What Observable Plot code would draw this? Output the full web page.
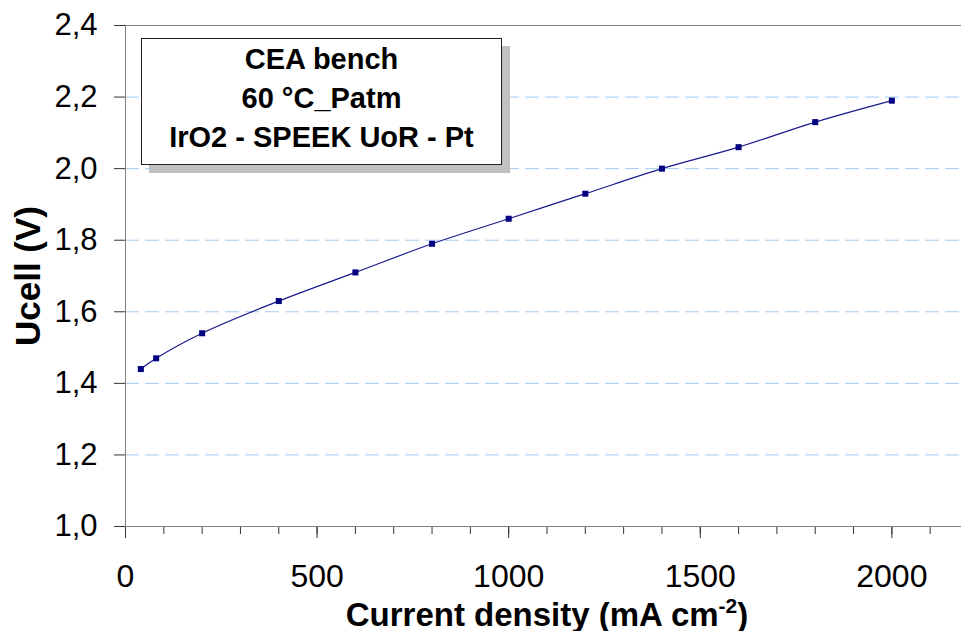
<!DOCTYPE html>
<html>
<head>
<meta charset="utf-8">
<script src="https://cdn.jsdelivr.net/npm/d3@7"></script>
<script src="https://cdn.jsdelivr.net/npm/@observablehq/plot@0.6"></script>
<style>
  html, body { margin: 0; padding: 0; background: #fff; overflow: hidden; }
  #wrap { position: relative; width: 961px; height: 631px; overflow: hidden; }
  #box {
    position: absolute; left: 141px; top: 38px; width: 359px; height: 124px;
    border: 1px solid #222; background: #fff; box-shadow: 8px 8px 0 #c0c0c0;
    font-family: "Liberation Sans", Arial, sans-serif; font-weight: bold; font-size: 29px;
    text-align: center; line-height: 39px; padding-top: 1px; box-sizing: content-box;
  }
</style>
</head>
<body>
<div id="wrap"><div id="box"><div>CEA bench</div><div>60 °C_Patm</div><div>IrO2 - SPEEK UoR - Pt</div></div></div>
<script>
const currentDensity = [40, 80, 200, 400, 600, 800, 1000, 1200, 1400, 1600, 1800, 2000];
const ucell = [1.44, 1.47, 1.54, 1.63, 1.71, 1.79, 1.86, 1.93, 2.00, 2.06, 2.13, 2.19];
const xMajorTicks = [0, 500, 1000, 1500, 2000];
const xMinorTicks = d3.range(0, 2200, 100);
const yTicks = [1.0, 1.2, 1.4, 1.6, 1.8, 2.0, 2.2, 2.4];
const yGrid = [1.2, 1.4, 1.6, 1.8, 2.0, 2.2];

const data = currentDensity.map((x, i) => ({x, y: ucell[i]}));
const fmt = d => d.toFixed(1).replace(".", ",");

const chart = Plot.plot({
  width: 975,
  height: 631,
  marginLeft: 125,
  marginRight: 7,
  marginTop: 25,
  marginBottom: 105,
  x: {domain: [0, 2200]},
  y: {domain: [1.0, 2.4]},
  style: {fontFamily: "'Liberation Sans', Arial, sans-serif", background: "transparent", color: "#000", maxWidth: "none"},
  marks: [
    Plot.ruleY(yGrid, {stroke: "#a0cbf5", strokeWidth: 1, strokeDasharray: "14,6"}),
    Plot.ruleY([2.4], {stroke: "#808080", strokeWidth: 1}),
    Plot.axisX(xMinorTicks, {tickSize: 8, tickFormat: () => "", stroke: "#333", label: null}),
    Plot.axisX(xMajorTicks, {
      tickSize: 12, tickPadding: 26, fontSize: 32, stroke: "#333", tickFormat: d => String(d),
      label: "Current density (mA cm-2)", labelAnchor: "center", labelArrow: "none", labelOffset: 99
    }),
    Plot.axisY(yTicks, {
      tickSize: 11, tickPadding: 17, fontSize: 31, stroke: "#333", tickFormat: fmt,
      label: "Ucell (V)", labelAnchor: "center", labelArrow: "none", labelOffset: 110
    }),
    Plot.ruleX([0], {stroke: "#808080"}),
    Plot.ruleY([1.0], {stroke: "#808080"}),
    Plot.line(data, {x: "x", y: "y", curve: "catmull-rom", stroke: "#1a1a8c", strokeWidth: 1.2}),
    Plot.dot(data, {x: "x", y: "y", symbol: "square", r: 3.4, fill: "#000080", stroke: "none"})
  ]
});
chart.style.maxWidth = "none";
// axis titles: bold, with superscript
const xl = chart.querySelector("g[aria-label='x-axis label'] text");
if (xl) {
  xl.setAttribute("font-weight", "bold");
  xl.setAttribute("font-size", "33");
  xl.textContent = "";
  const ns = "http://www.w3.org/2000/svg";
  const a = document.createElementNS(ns, "tspan"); a.textContent = "Current density (mA cm";
  const b = document.createElementNS(ns, "tspan"); b.textContent = "-2"; b.setAttribute("dy", "-13"); b.setAttribute("font-size", "21");
  const c = document.createElementNS(ns, "tspan"); c.textContent = ")"; c.setAttribute("dy", "13");
  xl.append(a, b, c);
}
const yl = chart.querySelector("g[aria-label='y-axis label'] text");
if (yl) { yl.setAttribute("font-weight", "bold"); yl.setAttribute("font-size", "35"); }
chart.style.position = "absolute";
chart.style.left = "0";
chart.style.top = "0";
const wrap = document.getElementById("wrap");
wrap.insertBefore(chart, wrap.firstChild);
</script>
</body>
</html>
